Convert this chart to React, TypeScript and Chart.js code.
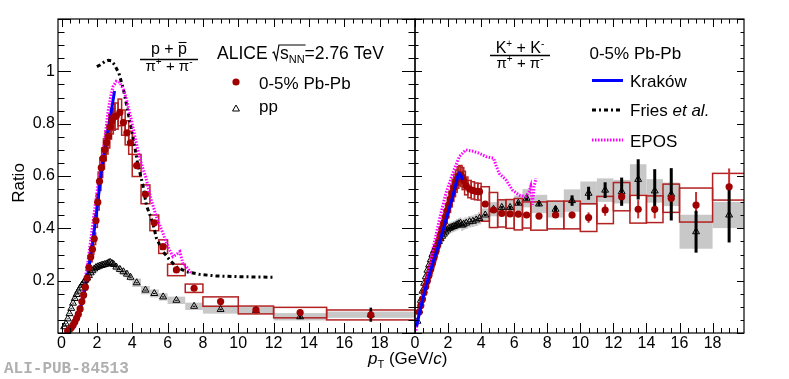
import React, { useEffect, useRef } from "react";
import { Chart, registerables } from "chart.js";
Chart.register(...registerables);

const F = "'Liberation Sans', Arial, Helvetica, sans-serif";
const MONO = "'Liberation Mono', 'DejaVu Sans Mono', monospace";
const RED = "#a00000";
const BOX_RED = "#b22222";
const STAT_RED = "#c83030";
const GREY = "#c8c8c8";
const BLUE = "#0000ff";
const MAGENTA = "#ff00ff";

// ---------- axis tick labels ----------
const xTickValues = [0, 2, 4, 6, 8, 10, 12, 14, 16, 18];
const yTickValues = [0.2, 0.4, 0.6, 0.8, 1];

// ---------- p/pi, 0-5% Pb-Pb ----------
const ppiPbPbPt = [0.35,0.45,0.55,0.65,0.75,0.85,0.95,1.05,1.15,1.25,
  1.35,1.45,1.55,1.65,1.75,1.85,1.95,2.05,2.15,2.25,
  2.35,2.45,2.55,2.65,2.75,2.85,2.95,3.1,3.3,3.5,
  3.7,3.9,4.25,4.75,5.25,5.75,6.5,7.5,9,11,
  13.5,17.5];
const ppiPbPbVal = [0.008,0.013,0.02,0.03,0.042,0.056,0.072,0.092,0.12,0.145,
  0.175,0.21,0.25,0.29,0.32,0.36,0.43,0.5,0.58,0.632,
  0.667,0.7,0.728,0.752,0.788,0.81,0.825,0.829,0.843,0.804,
  0.765,0.727,0.64,0.53,0.421,0.33,0.241,0.171,0.12,0.088,
  0.078,0.069];
const ppiPbPbSys = [0.001,0.001,0.002,0.002,0.003,0.004,0.005,0.006,0.007,0.009,
  0.011,0.013,0.015,0.018,0.02,0.022,0.026,0.03,0.035,0.038,
  0.04,0.042,0.044,0.045,0.047,0.049,0.05,0.05,0.051,0.048,
  0.046,0.044,0.042,0.036,0.03,0.026,0.022,0.016,0.018,0.015,
  0.02,0.019];
const ppiPbPbStat = [0.001,0.001,0.001,0.001,0.001,0.001,0.001,0.001,0.001,0.001,
  0.001,0.001,0.001,0.001,0.001,0.001,0.002,0.002,0.002,0.002,
  0.002,0.002,0.002,0.002,0.002,0.002,0.002,0.003,0.003,0.003,
  0.003,0.003,0.004,0.004,0.004,0.004,0.003,0.003,0.004,0.006,
  0.01,0.012];
const ppiPbPbBin = [0.16,0.16,0.16,0.16,0.16,0.16,0.16,0.16,0.16,0.16,
  0.16,0.16,0.16,0.16,0.16,0.16,0.16,0.16,0.16,0.16,
  0.16,0.16,0.16,0.16,0.16,0.16,0.16,0.2,0.2,0.2,
  0.2,0.2,0.5,0.5,0.5,0.5,1,1,2,2,
  3,5];

// ---------- p/pi, pp ----------
const ppiPpPt = [0.15,0.25,0.35,0.45,0.55,0.65,0.75,0.85,0.95,1.05,
  1.15,1.25,1.35,1.45,1.55,1.65,1.75,1.85,1.95,2.05,
  2.15,2.25,2.35,2.45,2.55,2.65,2.75,2.85,2.95,3.1,
  3.3,3.5,3.7,3.9,4.25,4.75,5.25,5.75,6.5,7.5,
  9,11,13.5,17.5];
const ppiPpVal = [0.024,0.035,0.054,0.074,0.094,0.114,0.132,0.147,0.16,0.172,
  0.183,0.193,0.202,0.21,0.22,0.23,0.238,0.245,0.25,0.253,
  0.256,0.258,0.26,0.262,0.264,0.268,0.27,0.266,0.262,0.252,
  0.243,0.234,0.225,0.213,0.192,0.164,0.151,0.138,0.125,0.102,
  0.09,0.086,0.062,0.07];
const ppiPpSys = [0.001,0.002,0.003,0.004,0.005,0.006,0.007,0.007,0.008,0.009,
  0.009,0.01,0.01,0.011,0.011,0.012,0.012,0.012,0.013,0.013,
  0.013,0.013,0.013,0.013,0.013,0.013,0.014,0.013,0.013,0.013,
  0.013,0.013,0.013,0.014,0.016,0.016,0.015,0.014,0.014,0.014,
  0.016,0.014,0.014,0.012];
const ppiPpStat = [0.001,0.001,0.001,0.001,0.001,0.001,0.001,0.001,0.001,0.001,
  0.001,0.001,0.001,0.001,0.001,0.001,0.001,0.001,0.001,0.001,
  0.001,0.001,0.001,0.001,0.001,0.001,0.001,0.001,0.001,0.002,
  0.002,0.002,0.002,0.002,0.002,0.002,0.002,0.002,0.002,0.002,
  0.003,0.005,0.007,0.027];
const ppiPpBin = [0.1,0.1,0.1,0.1,0.1,0.1,0.1,0.1,0.1,0.1,
  0.1,0.1,0.1,0.1,0.1,0.1,0.1,0.1,0.1,0.1,
  0.1,0.1,0.1,0.1,0.1,0.1,0.1,0.1,0.1,0.2,
  0.2,0.2,0.2,0.2,0.5,0.5,0.5,0.5,1,1,
  2,2,3,5];

// ---------- p/pi models ----------
const ppiKrakowPt = [0.2,0.5,0.8,1.0,1.25,1.5,1.75,2.0,2.25,2.5,2.75,3.0];
const ppiKrakowVal = [0.002,0.012,0.04,0.075,0.14,0.23,0.34,0.47,0.615,0.72,0.82,0.925];
const ppiFriesPt = [2.0,2.2,2.44,2.65,2.82,3.0,3.25,3.51,3.7,3.89,4.08,4.3,4.6,4.8,5.17,5.37,5.74,6.12,6.5,7.07,7.82,8.76,10.1,12.0];
const ppiFriesVal = [1.018,1.025,1.037,1.042,1.04,1.025,0.992,0.929,0.865,0.8,0.737,0.65,0.566,0.489,0.419,0.362,0.311,0.279,0.253,0.234,0.224,0.218,0.215,0.213];
const ppiEposPt = [0.2,0.5,0.8,1.0,1.2,1.49,1.68,1.87,2.05,2.25,2.44,2.63,2.76,2.91,3.1,3.3,3.5,3.66,3.95,4.23,4.51,4.76,5.08,5.37,5.74,6.02,6.3,6.5,6.69,6.87,7.1,7.35];
const ppiEposVal = [0.005,0.02,0.05,0.09,0.15,0.27,0.37,0.47,0.56,0.64,0.737,0.846,0.897,0.941,0.962,0.958,0.93,0.897,0.814,0.725,0.648,0.597,0.508,0.444,0.381,0.33,0.292,0.3,0.311,0.266,0.25,0.228];

// ---------- K/pi, 0-5% Pb-Pb ----------
const kpiPbPbPt = [0.25,0.35,0.45,0.55,0.65,0.75,0.85,0.95,1.05,1.15,
  1.25,1.35,1.45,1.55,1.65,1.75,1.85,1.95,2.05,2.15,
  2.25,2.35,2.45,2.55,2.65,2.75,2.85,2.95,3.1,3.3,
  3.5,3.7,3.9,4.25,4.75,5.25,5.75,6.25,6.75,7.5,
  8.5,9.5,10.5,11.5,12.5,13.5,14.5,15.5,17,19];
const kpiPbPbVal = [0.08,0.105,0.13,0.155,0.178,0.2,0.222,0.244,0.266,0.288,
  0.31,0.332,0.355,0.378,0.4,0.422,0.445,0.468,0.49,0.512,
  0.534,0.554,0.572,0.588,0.6,0.604,0.596,0.583,0.562,0.55,
  0.545,0.541,0.54,0.493,0.47,0.457,0.455,0.454,0.451,0.447,
  0.451,0.451,0.441,0.47,0.521,0.473,0.473,0.515,0.489,0.559];
const kpiPbPbSys = [0.005,0.006,0.008,0.009,0.011,0.012,0.013,0.015,0.016,0.017,
  0.018,0.02,0.021,0.022,0.024,0.025,0.026,0.027,0.029,0.03,
  0.031,0.033,0.034,0.035,0.036,0.036,0.036,0.035,0.034,0.033,
  0.033,0.032,0.032,0.066,0.067,0.052,0.055,0.06,0.05,0.054,
  0.053,0.053,0.053,0.052,0.054,0.053,0.051,0.054,0.065,0.051];
const kpiPbPbStat = [0.001,0.001,0.001,0.001,0.001,0.001,0.001,0.001,0.001,0.001,
  0.001,0.001,0.001,0.001,0.001,0.001,0.001,0.001,0.001,0.001,
  0.002,0.002,0.002,0.002,0.002,0.002,0.002,0.002,0.002,0.002,
  0.002,0.002,0.002,0.006,0.006,0.007,0.008,0.009,0.01,0.008,
  0.01,0.013,0.02,0.022,0.025,0.035,0.035,0.04,0.05,0.07];
const kpiPbPbBin = [0.2,0.2,0.2,0.2,0.2,0.2,0.2,0.2,0.2,0.2,
  0.2,0.2,0.2,0.2,0.2,0.2,0.2,0.2,0.2,0.2,
  0.2,0.2,0.2,0.2,0.2,0.2,0.2,0.2,0.2,0.2,
  0.2,0.2,0.2,0.5,0.5,0.5,0.5,0.5,0.5,1,
  1,1,1,1,1,1,1,1,2,2];

// ---------- K/pi, pp ----------
const kpiPpPt = [0.15,0.25,0.35,0.45,0.55,0.65,0.75,0.85,0.95,1.05,
  1.15,1.25,1.35,1.45,1.55,1.65,1.75,1.85,1.95,2.05,
  2.15,2.25,2.35,2.45,2.55,2.65,2.75,2.85,2.95,3.1,
  3.3,3.5,3.7,3.9,4.25,4.75,5.25,5.75,6.25,6.75,
  7.5,8.5,9.5,10.5,11.5,12.5,13.5,14.5,15.5,17,
  19];
const kpiPpVal = [0.045,0.085,0.125,0.16,0.19,0.215,0.24,0.26,0.28,0.3,
  0.315,0.33,0.34,0.35,0.36,0.37,0.378,0.386,0.394,0.4,
  0.402,0.405,0.407,0.41,0.414,0.417,0.42,0.412,0.416,0.42,
  0.425,0.427,0.432,0.438,0.451,0.473,0.48,0.48,0.496,0.515,
  0.493,0.473,0.506,0.534,0.546,0.54,0.587,0.543,0.53,0.387,
  0.451];
const kpiPpSys = [0.003,0.005,0.007,0.009,0.011,0.012,0.013,0.014,0.015,0.016,
  0.017,0.017,0.018,0.018,0.019,0.019,0.02,0.02,0.02,0.021,
  0.021,0.021,0.021,0.021,0.022,0.022,0.022,0.022,0.022,0.022,
  0.022,0.022,0.023,0.023,0.025,0.027,0.028,0.028,0.03,0.035,
  0.035,0.032,0.043,0.045,0.045,0.045,0.058,0.045,0.045,0.065,
  0.05];
const kpiPpStat = [0.001,0.001,0.001,0.001,0.001,0.001,0.001,0.001,0.001,0.001,
  0.002,0.002,0.002,0.002,0.002,0.002,0.002,0.002,0.002,0.002,
  0.002,0.002,0.002,0.002,0.002,0.002,0.002,0.002,0.002,0.002,
  0.002,0.003,0.003,0.003,0.004,0.005,0.005,0.006,0.007,0.008,
  0.008,0.012,0.02,0.025,0.03,0.054,0.077,0.083,0.1,0.08,
  0.105];
const kpiPpBin = [0.12,0.12,0.12,0.12,0.12,0.12,0.12,0.12,0.12,0.12,
  0.12,0.12,0.12,0.12,0.12,0.12,0.12,0.12,0.12,0.12,
  0.12,0.12,0.12,0.12,0.12,0.12,0.12,0.12,0.12,0.2,
  0.2,0.2,0.2,0.2,0.5,0.5,0.5,0.5,0.5,0.5,
  1,1,1,1,1,1,1,1,1,2,
  2];

// ---------- K/pi models ----------
const kpiKrakowPt = [0.1,0.26,0.66,1.07,1.47,1.87,2.28,2.58,2.68,2.78,2.88];
const kpiKrakowVal = [0.025,0.075,0.177,0.266,0.343,0.432,0.521,0.597,0.61,0.603,0.585];
const kpiEposPt = [0.05,0.3,0.66,1.07,1.47,1.87,2.28,2.68,3.08,3.48,3.89,4.29,4.6,4.75,4.9,5.09,5.5,5.9,6.3,6.7,6.9,7.0,7.1,7.2,7.32];
const kpiEposVal = [0.01,0.09,0.18,0.317,0.432,0.534,0.61,0.674,0.7,0.695,0.687,0.674,0.67,0.668,0.64,0.61,0.585,0.546,0.527,0.521,0.54,0.56,0.49,0.56,0.591];

// ---------- helpers ----------
const pts = (xs: number[], ys: number[]) => xs.map((x, i) => ({ x, y: ys[i] }));

type BoxSet = { pt: number[]; val: number[]; sys: number[]; w: number[]; fill?: string; stroke?: string };
type ErrSet = { pt: number[]; val: number[]; err: number[]; color: string; width: number };
type Seg = { t: string; f: string; dy?: number };

function drawSegs(ctx: CanvasRenderingContext2D, segs: Seg[], x: number, y: number, center = false) {
  let w = 0;
  for (const s of segs) { ctx.font = s.f; w += ctx.measureText(s.t).width; }
  let cx = center ? x - w / 2 : x;
  const x0 = cx;
  for (const s of segs) {
    ctx.font = s.f;
    ctx.fillText(s.t, cx, y + (s.dy || 0));
    cx += ctx.measureText(s.t).width;
  }
  return { x0, w };
}

function line(ctx: CanvasRenderingContext2D, x0: number, y0: number, x1: number, y1: number, lw = 1.2) {
  ctx.lineWidth = lw;
  ctx.beginPath();
  ctx.moveTo(x0, y0);
  ctx.lineTo(x1, y1);
  ctx.stroke();
}

type TickCfg = { xMaj: number; xMin: number; tMaj: number; tMin: number; lMaj: number; lMin: number; rMaj: number; rMin: number };

function makeDecor(boxes: BoxSet[], errs: ErrSet[], ticks: TickCfg, texts: (ctx: CanvasRenderingContext2D) => void) {
  return {
    id: "decor",
    beforeDatasetsDraw(chart: any) {
      const { ctx, chartArea: a, scales } = chart;
      const x = scales.x, y = scales.y;
      ctx.save();
      ctx.beginPath();
      ctx.rect(a.left, a.top, a.right - a.left, a.bottom - a.top);
      ctx.clip();
      for (const b of boxes) {
        for (let i = 0; i < b.pt.length; i++) {
          const x0 = x.getPixelForValue(b.pt[i] - b.w[i] / 2);
          const x1 = x.getPixelForValue(b.pt[i] + b.w[i] / 2);
          const y0 = y.getPixelForValue(b.val[i] + b.sys[i]);
          const y1 = y.getPixelForValue(b.val[i] - b.sys[i]);
          if (b.fill) { ctx.fillStyle = b.fill; ctx.fillRect(x0, y0, x1 - x0, y1 - y0); }
          if (b.stroke) { ctx.strokeStyle = b.stroke; ctx.lineWidth = 1.5; ctx.strokeRect(x0, y0, x1 - x0, y1 - y0); }
        }
      }
      for (const e of errs) {
        ctx.strokeStyle = e.color;
        for (let i = 0; i < e.pt.length; i++) {
          const px = x.getPixelForValue(e.pt[i]);
          line(ctx, px, y.getPixelForValue(e.val[i] - e.err[i]), px, y.getPixelForValue(e.val[i] + e.err[i]), e.width);
        }
      }
      ctx.restore();
    },
    afterDraw(chart: any) {
      const { ctx, chartArea: a, scales } = chart;
      const x = scales.x, y = scales.y;
      ctx.save();
      ctx.strokeStyle = "#000";
      ctx.lineWidth = 1.2;
      ctx.strokeRect(a.left, a.top, a.right - a.left, a.bottom - a.top);
      ctx.lineWidth = 1;
      ctx.beginPath();
      const k0 = Math.ceil(x.min / 0.5 - 1e-6), k1 = Math.floor(x.max / 0.5 + 1e-6);
      for (let k = k0; k <= k1; k++) {
        const px = Math.round(x.getPixelForValue(k * 0.5)) + 0.5;
        const major = k % 4 === 0;
        ctx.moveTo(px, a.bottom); ctx.lineTo(px, a.bottom - (major ? ticks.xMaj : ticks.xMin));
        ctx.moveTo(px, a.top); ctx.lineTo(px, a.top + (major ? ticks.tMaj : ticks.tMin));
      }
      for (let k = 0; k <= 24; k++) {
        const py = Math.round(y.getPixelForValue(k * 0.05)) + 0.5;
        const major = k % 4 === 0;
        ctx.moveTo(a.left, py); ctx.lineTo(a.left + (major ? ticks.lMaj : ticks.lMin), py);
        ctx.moveTo(a.right, py); ctx.lineTo(a.right - (major ? ticks.rMaj : ticks.rMin), py);
      }
      ctx.stroke();
      ctx.fillStyle = "#000";
      ctx.strokeStyle = "#000";
      ctx.textBaseline = "alphabetic";
      ctx.textAlign = "left";
      texts(ctx);
      ctx.restore();
    },
  };
}

function leftTexts(ctx: CanvasRenderingContext2D) {
  const f16 = `16px ${F}`, f15 = `15px ${F}`, f10 = `10px ${F}`, f17 = `17px ${F}`, f11 = `11px ${F}`;
  const fA = `17.5px ${F}`;
  // fraction p+pbar / pi+ + pi-
  const num = drawSegs(ctx, [{ t: "p + p", f: f16 }], 169, 54, true);
  ctx.font = f16;
  const pw = ctx.measureText("p").width;
  line(ctx, num.x0 + num.w - pw + 0.5, 42.5, num.x0 + num.w - 0.5, 42.5, 1.1);
  line(ctx, 140, 59.5, 198, 59.5, 1.3);
  drawSegs(ctx, [{ t: "π", f: f15 }, { t: "+", f: f10, dy: -6 }, { t: " + π", f: f15 }, { t: "-", f: f10, dy: -6 }], 169, 71, true);
  // ALICE sqrt(sNN)=2.76 TeV
  let x = 217;
  const by = 59;
  ctx.font = fA;
  ctx.fillText("ALICE", x, by);
  x += ctx.measureText("ALICE ").width;
  const sw = ctx.measureText("s").width;
  ctx.font = f11;
  const nw = ctx.measureText("NN").width;
  ctx.lineWidth = 1.2;
  ctx.beginPath();
  ctx.moveTo(x, by - 6);
  ctx.lineTo(x + 1.5, by - 7);
  ctx.lineTo(x + 4, by + 0.5);
  ctx.lineTo(x + 6.5, by - 14);
  ctx.lineTo(x + 6.5 + sw + nw + 2, by - 14);
  ctx.stroke();
  x += 7.5;
  ctx.font = fA;
  ctx.fillText("s", x, by);
  x += sw;
  ctx.font = f11;
  ctx.fillText("NN", x, by + 4);
  x += nw;
  ctx.font = fA;
  ctx.fillText("=2.76 TeV", x, by);
  // legend
  ctx.fillStyle = RED;
  ctx.beginPath();
  ctx.arc(236, 82, 3.6, 0, Math.PI * 2);
  ctx.fill();
  ctx.fillStyle = "#000";
  ctx.font = f17;
  ctx.fillText("0-5% Pb-Pb", 259, 88.5);
  const r = 4;
  ctx.lineWidth = 1;
  ctx.beginPath();
  ctx.moveTo(236, 109 - r);
  ctx.lineTo(236 + r * 0.866, 109 + r / 2);
  ctx.lineTo(236 - r * 0.866, 109 + r / 2);
  ctx.closePath();
  ctx.stroke();
  ctx.font = f17;
  ctx.fillText("pp", 259, 112);
  // y title
  ctx.save();
  ctx.translate(19.5, 183);
  ctx.rotate(-Math.PI / 2);
  ctx.textAlign = "center";
  ctx.textBaseline = "middle";
  ctx.font = f17;
  ctx.fillText("Ratio", 0, 0);
  ctx.restore();
  // x title
  drawSegs(ctx, [
    { t: "p", f: `italic 17px ${F}` },
    { t: "T", f: f11, dy: 4 },
    { t: " (GeV/", f: f17 },
    { t: "c", f: `italic 17px ${F}` },
    { t: ")", f: f17 },
  ], 368, 364);
  // publication tag
  ctx.fillStyle = "#b0b0b0";
  ctx.font = `bold 16px ${MONO}`;
  ctx.fillText("ALI-PUB-84513", 4, 373);
}

function rightTexts(ctx: CanvasRenderingContext2D) {
  const f16 = `16px ${F}`, f15 = `15px ${F}`, f10 = `10px ${F}`, f17 = `17px ${F}`;
  drawSegs(ctx, [{ t: "K", f: f16 }, { t: "+", f: f10, dy: -6 }, { t: " + K", f: f16 }, { t: "-", f: f10, dy: -6 }], 520, 53, true);
  line(ctx, 490, 55.5, 550, 55.5, 1.3);
  drawSegs(ctx, [{ t: "π", f: f15 }, { t: "+", f: f10, dy: -6 }, { t: " + π", f: f15 }, { t: "-", f: f10, dy: -6 }], 520, 68, true);
  ctx.font = f17;
  ctx.fillText("0-5% Pb-Pb", 589.5, 58.5);
  // legend lines
  ctx.lineCap = "butt";
  ctx.strokeStyle = BLUE;
  line(ctx, 592, 80.5, 623, 80.5, 3);
  ctx.strokeStyle = "#000";
  ctx.setLineDash([4, 3, 2, 3]);
  line(ctx, 592, 110, 623, 110, 3);
  ctx.strokeStyle = MAGENTA;
  ctx.setLineDash([1.5, 1.5]);
  line(ctx, 592, 140, 623, 140, 3);
  ctx.setLineDash([]);
  ctx.fillStyle = "#000";
  ctx.font = f17;
  ctx.fillText("Kraków", 630, 87);
  drawSegs(ctx, [{ t: "Fries ", f: f17 }, { t: "et al.", f: `italic 17px ${F}` }], 630, 116);
  ctx.font = f17;
  ctx.fillText("EPOS", 630, 146.5);
}

function scaleOpts(min: number, max: number, display: boolean, ticksVals: number[], fmt: (v: number) => string, fitKey: "width" | "height", fitVal: number, pad: number) {
  return {
    type: "linear" as const,
    min,
    max,
    display,
    grid: { display: false, drawTicks: false },
    border: { display: false },
    ticks: {
      color: "#000",
      font: { family: F, size: 16 },
      padding: pad,
      maxRotation: 0,
      autoSkip: false,
      callback: (v: any) => fmt(Number(v)),
    },
    afterBuildTicks: (s: any) => { s.ticks = ticksVals.map((v) => ({ value: v })); },
    afterFit: (s: any) => { s[fitKey] = fitVal; },
  };
}

const lineDs = (label: string, xs: number[], ys: number[], color: string, dash: number[], order: number) => ({
  label,
  data: pts(xs, ys),
  showLine: true,
  borderColor: color,
  backgroundColor: color,
  borderWidth: 3,
  borderDash: dash,
  pointRadius: 0,
  fill: false,
  tension: 0,
  order,
});

export default function App() {
  const lRef = useRef<HTMLCanvasElement>(null);
  const rRef = useRef<HTMLCanvasElement>(null);

  useEffect(() => {
    const leftChart = new Chart(lRef.current as HTMLCanvasElement, {
      type: "scatter",
      data: {
        datasets: [
          { label: "0-5% Pb-Pb", data: pts(ppiPbPbPt, ppiPbPbVal), pointStyle: "circle", pointRadius: 3.6, backgroundColor: RED, borderColor: RED, borderWidth: 0, order: 1 } as any,
          { label: "pp", data: pts(ppiPpPt, ppiPpVal), pointStyle: "triangle", pointRadius: 4, backgroundColor: "rgba(255,255,255,0)", borderColor: "#000", borderWidth: 1, order: 2 } as any,
          lineDs("Kraków", ppiKrakowPt, ppiKrakowVal, BLUE, [], 3),
          lineDs("Fries et al.", ppiFriesPt, ppiFriesVal, "#000", [4, 3, 2, 3], 5),
          lineDs("EPOS", ppiEposPt, ppiEposVal, MAGENTA, [1.5, 1.5], 4),
        ],
      },
      options: {
        animation: false,
        responsive: false,
        devicePixelRatio: 1,
        events: [],
        layout: { padding: { left: 0, right: 374, top: 19, bottom: 0 } },
        plugins: { legend: { display: false }, tooltip: { enabled: false } },
        scales: {
          x: scaleOpts(-0.2, 20, true, xTickValues, (v) => String(v), "height", 46, 1) as any,
          y: scaleOpts(0, 1.2, true, yTickValues, (v) => (v === 1 ? "1" : v.toFixed(1)), "width", 58, 3) as any,
        },
      },
      plugins: [
        makeDecor(
          [
            { pt: ppiPpPt, val: ppiPpVal, sys: ppiPpSys, w: ppiPpBin, fill: GREY },
            { pt: ppiPbPbPt, val: ppiPbPbVal, sys: ppiPbPbSys, w: ppiPbPbBin, stroke: BOX_RED },
          ],
          [
            { pt: ppiPbPbPt, val: ppiPbPbVal, err: ppiPbPbStat, color: STAT_RED, width: 2 },
            { pt: ppiPpPt, val: ppiPpVal, err: ppiPpStat, color: "#000", width: 2.5 },
          ],
          { xMaj: 10, xMin: 5, tMaj: 8, tMin: 4.5, lMaj: 13, lMin: 6.5, rMaj: 13, rMin: 6.5 },
          leftTexts
        ) as any,
      ],
    });

    const rightChart = new Chart(rRef.current as HTMLCanvasElement, {
      type: "scatter",
      data: {
        datasets: [
          lineDs("Kraków", kpiKrakowPt, kpiKrakowVal, BLUE, [], 0),
          lineDs("EPOS", kpiEposPt, kpiEposVal, MAGENTA, [1.5, 1.5], 1),
          { label: "0-5% Pb-Pb", data: pts(kpiPbPbPt, kpiPbPbVal), pointStyle: "circle", pointRadius: 3.6, backgroundColor: RED, borderColor: RED, borderWidth: 0, order: 2 } as any,
          { label: "pp", data: pts(kpiPpPt, kpiPpVal), pointStyle: "triangle", pointRadius: 4, backgroundColor: "rgba(255,255,255,0)", borderColor: "#000", borderWidth: 1, order: 3 } as any,
        ],
      },
      options: {
        animation: false,
        responsive: false,
        devicePixelRatio: 1,
        events: [],
        layout: { padding: { left: 415, right: 45, top: 19, bottom: 0 } },
        plugins: { legend: { display: false }, tooltip: { enabled: false } },
        scales: {
          x: scaleOpts(0, 19.9, true, xTickValues, (v) => String(v), "height", 46, 1) as any,
          y: scaleOpts(0, 1.2, false, yTickValues, (v) => String(v), "width", 0, 3) as any,
        },
      },
      plugins: [
        makeDecor(
          [
            { pt: kpiPpPt, val: kpiPpVal, sys: kpiPpSys, w: kpiPpBin, fill: GREY },
            { pt: kpiPbPbPt, val: kpiPbPbVal, sys: kpiPbPbSys, w: kpiPbPbBin, stroke: BOX_RED },
          ],
          [
            { pt: kpiPbPbPt, val: kpiPbPbVal, err: kpiPbPbStat, color: STAT_RED, width: 2 },
            { pt: kpiPpPt, val: kpiPpVal, err: kpiPpStat, color: "#000", width: 3 },
          ],
          { xMaj: 10, xMin: 5, tMaj: 8, tMin: 4.5, lMaj: 7, lMin: 3.5, rMaj: 7, rMin: 3.5 },
          rightTexts
        ) as any,
      ],
    });

    return () => {
      leftChart.destroy();
      rightChart.destroy();
    };
  }, []);

  return (
    <div style={{ position: "absolute", left: 0, top: 0, width: 789, height: 379, background: "#fff" }}>
      <canvas ref={lRef} width={789} height={379} style={{ position: "absolute", left: 0, top: 0 }} />
      <canvas ref={rRef} width={789} height={379} style={{ position: "absolute", left: 0, top: 0 }} />
    </div>
  );
}
